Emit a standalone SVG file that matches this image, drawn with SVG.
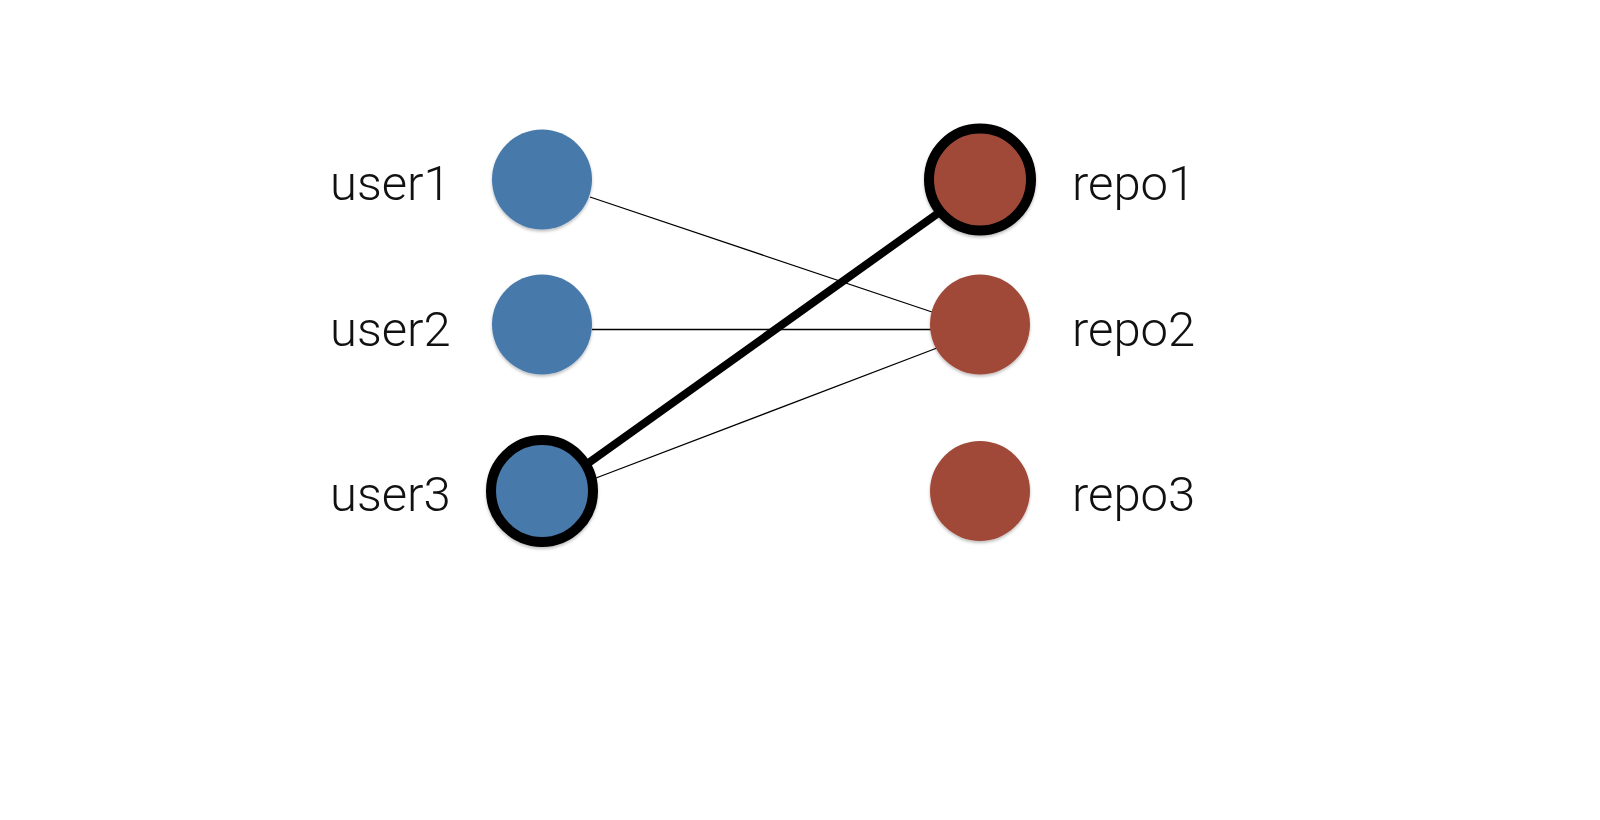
<svg xmlns="http://www.w3.org/2000/svg" width="1600" height="820" viewBox="0 0 1600 820">
<style>
.lbl{font-family:Roboto,"Liberation Sans",sans-serif;font-weight:300;font-size:49px;fill:#111}
.user{fill:#4679ab}
.repo{fill:#a04a39}
.hl{stroke:#000;stroke-width:10}
.thin{stroke:#000;stroke-width:1.3;fill:none}
.thick{stroke:#000;stroke-width:8;fill:none}
</style>
<defs>
<filter id="sh" x="-20%" y="-20%" width="140%" height="140%">
<feDropShadow dx="0" dy="2" stdDeviation="1.5" flood-color="#000" flood-opacity="0.25"/>
</filter>
</defs>
<rect width="1600" height="820" fill="#fff"/>
<g id="connectors">
<line class="thin" x1="590" y1="197" x2="935" y2="313"/>
<line class="thin" x1="592" y1="329.5" x2="933" y2="329.5"/>
<line class="thin" x1="596" y1="478" x2="937" y2="348"/>
<line class="thick" x1="587" y1="464" x2="944" y2="209"/>
</g>
<g id="user1"><circle class="user" cx="542" cy="179.5" r="50" filter="url(#sh)"/><text class="lbl" x="330" y="200">user1</text></g>
<g id="user2"><circle class="user" cx="542" cy="324.5" r="50" filter="url(#sh)"/><text class="lbl" x="330" y="346">user2</text></g>
<g id="user3"><circle class="user hl" cx="542" cy="491" r="51" filter="url(#sh)"/><text class="lbl" x="330" y="511">user3</text></g>
<g id="repo1"><circle class="repo hl" cx="980" cy="179.5" r="51" filter="url(#sh)"/><text class="lbl" x="1072" y="200">repo1</text></g>
<g id="repo2"><circle class="repo" cx="980" cy="324.5" r="50" filter="url(#sh)"/><text class="lbl" x="1072" y="346">repo2</text></g>
<g id="repo3"><circle class="repo" cx="980" cy="491" r="50" filter="url(#sh)"/><text class="lbl" x="1072" y="511">repo3</text></g>
</svg>
